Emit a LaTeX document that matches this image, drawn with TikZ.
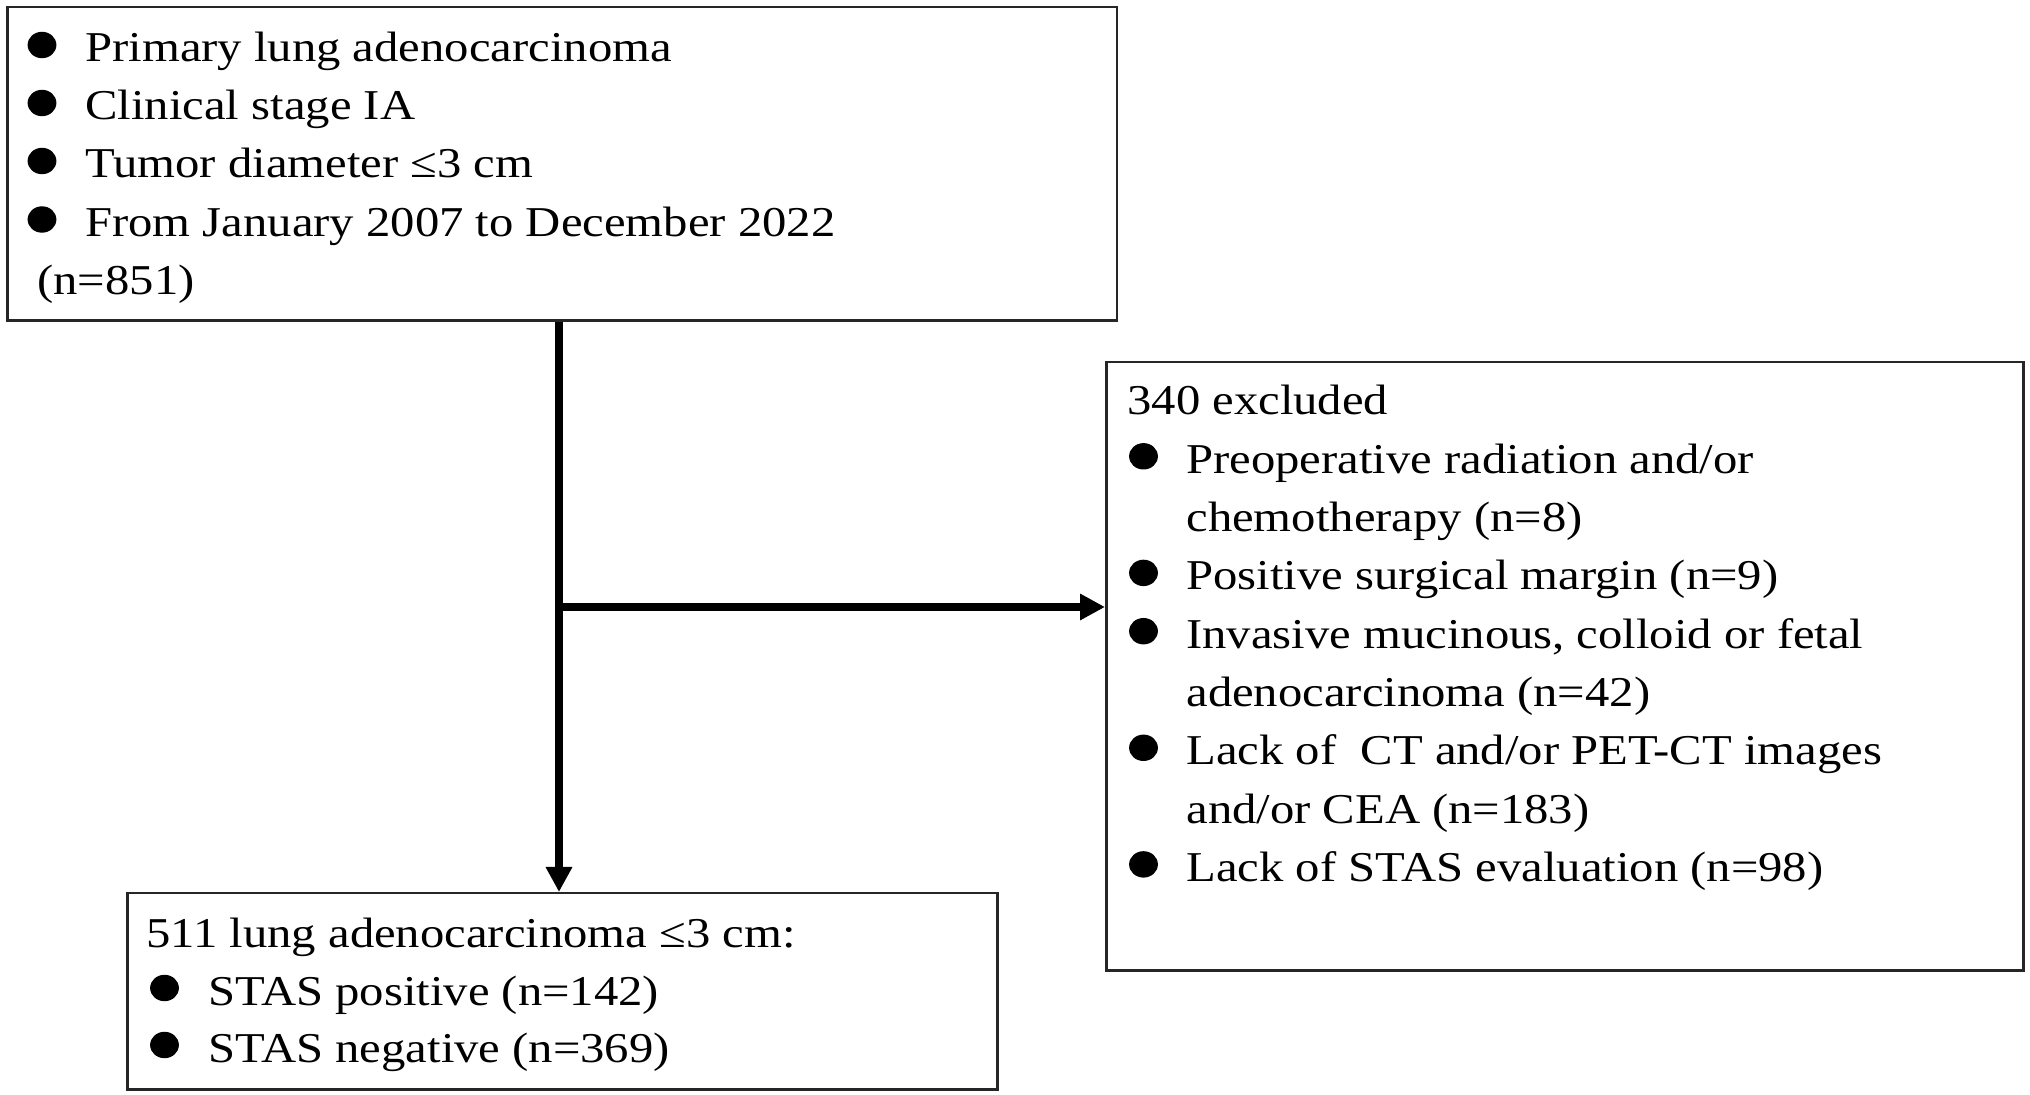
\documentclass[tikz,border=0pt]{standalone}
\usepackage{fontspec}
\setmainfont{Liberation Serif}[FakeStretch=1.145]
\usetikzlibrary{arrows.meta,shapes.geometric}
\tikzset{
  box/.style={draw=black!85, line width=1.25pt, inner sep=0pt, anchor=north west, fill=none},
  txt/.style={anchor=base west, inner sep=0pt, font=\fontsize{21.25pt}{29pt}\selectfont},
  bul/.style={ellipse, fill=black, draw=none, inner sep=0pt, minimum width=14.4pt, minimum height=13.2pt},
  arr/.style={line width=4.25pt, -{Triangle[length=12.5pt,width=12.5pt]}},
}
\begin{document}
\begin{tikzpicture}[x=0.5pt,y=-0.5pt]
\useasboundingbox[fill=white] (0,0) rectangle (2030,1095);
% boxes
\node[box, minimum width=554.75pt, minimum height=156.75pt] (top) at (6,6) {};
\node[box, minimum width=458.5pt, minimum height=304pt] (ex) at (1105,361) {};
\node[box, minimum width=435pt, minimum height=98pt] (bot) at (126,892) {};
% top box text
\node[bul] (tb1) at (42,45) {};
\node[txt] (tt1) at (85,62) {Primary lung adenocarcinoma};
\node[bul] (tb2) at (42,103) {};
\node[txt] (tt2) at (85,120) {Clinical stage IA};
\node[bul] (tb3) at (42,161) {};
\node[txt] (tt3) at (85,178) {Tumor diameter ≤3 cm};
\node[bul] (tb4) at (42,219.5) {};
\node[txt] (tt4) at (85,236.5) {From January 2007 to December 2022};
\node[txt] (tt5) at (37,295) {(n=851)};
% excluded box text
\node[txt] (et0) at (1127,415) {340 excluded};
\node[bul] (eb1) at (1143.5,456.3) {};
\node[txt] (et1) at (1186,473.3) {Preoperative radiation and/or};
\node[txt] (et2) at (1186,531.6) {chemotherapy (n=8)};
\node[bul] (eb3) at (1143.5,572.9) {};
\node[txt] (et3) at (1186,589.9) {Positive surgical margin (n=9)};
\node[bul] (eb4) at (1143.5,631.2) {};
\node[txt] (et4) at (1186,648.2) {Invasive mucinous, colloid or fetal};
\node[txt] (et5) at (1186,706.5) {adenocarcinoma (n=42)};
\node[bul] (eb6) at (1143.5,747.8) {};
\node[txt] (et6) at (1186,764.8) {Lack of\ \ CT and/or PET-CT images};
\node[txt] (et7) at (1186,823.1) {and/or CEA (n=183)};
\node[bul] (eb8) at (1143.5,864.4) {};
\node[txt] (et8) at (1186,881.4) {Lack of STAS evaluation (n=98)};
% bottom box text
\node[txt] (bt0) at (146,948) {511 lung adenocarcinoma ≤3 cm:};
\node[bul] (bb1) at (164.5,988) {};
\node[txt] (bt1) at (208,1005) {STAS positive (n=142)};
\node[bul] (bb2) at (164.5,1045) {};
\node[txt] (bt2) at (208,1062) {STAS negative (n=369)};
% connectors
\coordinate (j) at (559,607);
\draw[arr] (top.south -| j) -- (bot.north -| j);
\draw[arr] (j) -- (j -| ex.west);
\end{tikzpicture}
\end{document}
